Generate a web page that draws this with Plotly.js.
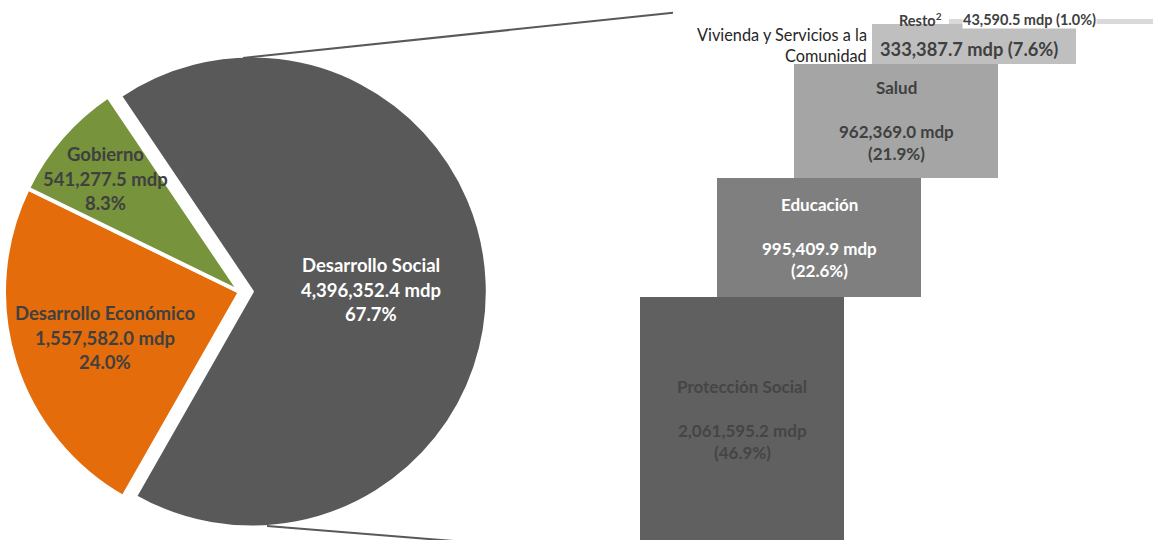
<!DOCTYPE html>
<html><head><meta charset="utf-8">
<script src="https://cdn.plot.ly/plotly-3.0.1.min.js"></script>
<style>
html,body{margin:0;padding:0;overflow:hidden;background:#fff;width:1159px;height:540px}
#chart{position:absolute;left:-12px;top:0;width:1171px;height:540px}
</style>
</head><body><div id="chart"></div>
<script>
// ---- data ----
const pieLabels = ['Desarrollo Social', 'Desarrollo Económico', 'Gobierno'];
const pieValues = [4396352.4, 1557582.0, 541277.5];
const piePercents = [67.7, 24.0, 8.3];

const barLabels = ['Protección Social', 'Educación', 'Salud', 'Vivienda y Servicios a la Comunidad', 'Resto<sup>2</sup>'];
const barValues = [2061595.2, 995409.9, 962369.0, 333387.7, 43590.5];
const barPercents = [46.9, 22.6, 21.9, 7.6, 1.0];

// ---- helpers ----
const W = 1171, H = 540;
const fmt = v => v.toLocaleString('en-US', {minimumFractionDigits: 1, maximumFractionDigits: 1});
const pct = p => p.toFixed(1) + '%';
const FONT = 'Lato, "Open Sans", sans-serif';
const annotations = [];
function addLines(lines, base, spacing, font) {
  const n = lines.length;
  lines.forEach((t, i) => {
    if (!t) return;
    annotations.push(Object.assign({
      text: t, showarrow: false, xanchor: 'center', yanchor: 'middle', font: font
    }, base, {yshift: -(i - (n - 1) / 2) * spacing + (base.yshift || 0)}));
  });
}
const px = x => x / W;
const py = y => 1 - y / H;

// cumulative bases for the breakdown bars
const bases = [];
let acc = 0;
barValues.forEach(v => { bases.push(acc); acc += v; });
const total = acc;
const idx = barValues.map((_, i) => i);

// ---- traces ----
const pie = {
  type: 'pie',
  labels: pieLabels,
  values: pieValues,
  sort: false,
  direction: 'clockwise',
  rotation: 326,
  pull: [0.05, 0, 0],
  textinfo: 'none',
  textposition: 'none',
  hoverinfo: 'label+value+percent',
  marker: {colors: ['#595959', '#E46C0A', '#77933C'], line: {color: '#ffffff', width: 4}},
  domain: {x: [0, 504 / W], y: [1 - 539.8 / H, 1 - 44.2 / H]},
  showlegend: false
};

const bars = {
  type: 'bar',
  x: idx,
  y: barValues,
  base: bases,
  width: 2.642,
  textposition: 'none',
  marker: {color: ['#606060', '#7F7F7F', '#A5A5A5', '#BFBFBF', '#D9D9D9'], line: {width: 0}},
  hoverinfo: 'y',
  showlegend: false
};

// ---- pie labels ----
const dark = '#404040';
addLines([pieLabels[0], fmt(pieValues[0]) + ' mdp', pct(piePercents[0])],
  {xref: 'paper', yref: 'paper', x: px(382.5), y: py(289.8)}, 24.6,
  {family: FONT, size: 18.5, color: '#ffffff', weight: 'bold'});
addLines([pieLabels[1], fmt(pieValues[1]) + ' mdp', pct(piePercents[1])],
  {xref: 'paper', yref: 'paper', x: px(117), y: py(337.6)}, 24.2,
  {family: FONT, size: 18.5, color: dark, weight: 'bold'});
addLines([pieLabels[2], fmt(pieValues[2]) + ' mdp', pct(piePercents[2])],
  {xref: 'paper', yref: 'paper', x: px(117), y: py(178.6)}, 24.5,
  {family: FONT, size: 18.5, color: dark, weight: 'bold'});

// ---- bar labels (first three) ----
const barTextColors = ['#454545', '#ffffff', '#404040'];
for (let i = 0; i < 3; i++) {
  addLines([barLabels[i], '', fmt(barValues[i]) + ' mdp', '(' + pct(barPercents[i]) + ')'],
    {xref: 'x', yref: 'y', x: i, y: bases[i] + barValues[i] / 2}, 22,
    {family: FONT, size: 17, color: barTextColors[i], weight: 'bold'});
}
// Vivienda
annotations.push({xref: 'x', yref: 'y', x: 3, y: bases[3] + barValues[3] / 2, xshift: -4.5, yshift: -5,
  text: fmt(barValues[3]) + ' mdp (' + pct(barPercents[3]) + ')', showarrow: false,
  font: {family: FONT, size: 18.3, color: dark, weight: 'bold'}});
const vivParts = ['Vivienda y Servicios a la', 'Comunidad'];
vivParts.forEach((t, i) => {
  annotations.push({xref: 'paper', yref: 'paper', x: px(881.3), y: py(35 + i * 20), xanchor: 'right', yanchor: 'middle',
    text: t, showarrow: false, font: {family: FONT, size: 16.3, color: '#262626'}});
});
// Resto
annotations.push({xref: 'paper', yref: 'paper', x: px(932), y: py(20), xanchor: 'center', yanchor: 'middle',
  text: barLabels[4], showarrow: false, font: {family: FONT, size: 14.5, color: dark, weight: 'bold'}});
annotations.push({xref: 'paper', yref: 'paper', x: px(1041.2), y: py(20), xanchor: 'center', yanchor: 'middle',
  text: fmt(barValues[4]) + ' mdp (' + pct(barPercents[4]) + ')', showarrow: false, bgcolor: '#ffffff', borderpad: 0,
  font: {family: FONT, size: 14.5, color: dark, weight: 'bold'}});

// ---- connector lines ----
const shapes = [
  {type: 'line', xref: 'paper', yref: 'paper', x0: px(255), y0: py(58), x1: px(685), y1: py(12.7),
   line: {color: '#595959', width: 2}},
  {type: 'line', xref: 'paper', yref: 'paper', x0: px(279), y0: py(526), x1: px(652), y1: py(556),
   line: {color: '#595959', width: 2}}
];

// y range so that the stack spans from 542.5px (0) to 18.7px (total)
const s = (542.5 - 18.7) / total;
const layout = {
  width: W, height: H,
  margin: {l: 0, r: 0, t: 0, b: 0, pad: 0},
  paper_bgcolor: '#ffffff', plot_bgcolor: 'rgba(0,0,0,0)',
  showlegend: false,
  xaxis: {range: [-754 / 77.2, (W - 754) / 77.2], visible: false, fixedrange: true},
  yaxis: {range: [2.5 / s, 542.5 / s], visible: false, fixedrange: true},
  bargap: 0,
  annotations: annotations,
  shapes: shapes
};

Plotly.newPlot('chart', [bars, pie], layout, {displayModeBar: false, staticPlot: true});
</script>
</body></html>
